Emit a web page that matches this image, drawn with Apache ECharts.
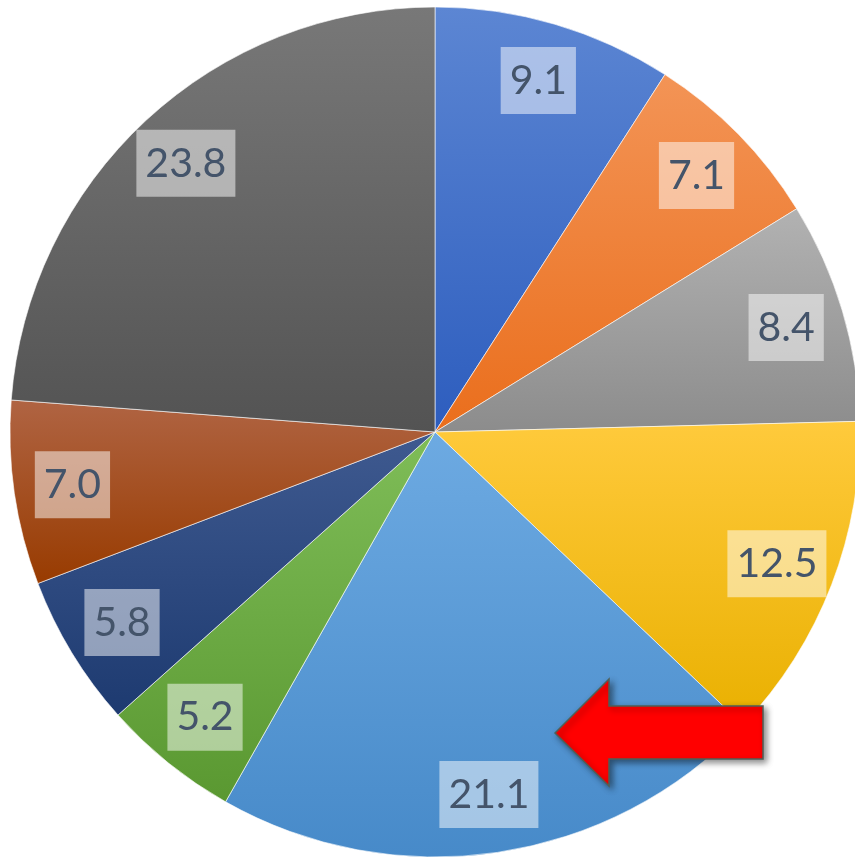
<!DOCTYPE html>
<html>
<head>
<meta charset="utf-8">
<script src="https://cdn.jsdelivr.net/npm/echarts@6/dist/echarts.min.js"></script>
<style>
  html, body { margin: 0; padding: 0; background: #fff; }
  #chart { width: 855px; height: 857px; }
</style>
</head>
<body>
<div id="chart"></div>
<script>
const values = [9.1, 7.1, 8.4, 12.5, 21.1, 5.2, 5.8, 7.0, 23.8]
const topColors = ['#5c86d3', '#f39456', '#b2b2b2', '#ffca3c', '#6daae2', '#7fbd58', '#3f5a90', '#b06443', '#787878']
const bottomColors = ['#2d5dbe', '#ea6e1c', '#8c8c8c', '#e9b000', '#478ac9', '#5a9831', '#1d3a70', '#983b00', '#535353']

const chart = echarts.init(document.getElementById('chart'))

const cx = 435
const cy = 432
const R = 425

const sliceData = values.map((v, i) => ({
  value: v,
  itemStyle: {
    color: new echarts.graphic.LinearGradient(0, 0, 0, 1, [
      { offset: 0, color: topColors[i] },
      { offset: 1, color: bottomColors[i] },
    ]),
  },
}))

const option = {
  backgroundColor: '#fff',
  animation: false,
  series: [
    {
      type: 'pie',
      center: [cx, cy],
      radius: [0, R],
      startAngle: 90,
      clockwise: true,
      silent: true,
      label: { show: false },
      labelLine: { show: false },
      itemStyle: { borderColor: 'rgba(255,255,255,0.6)', borderWidth: 1 },
      data: sliceData,
    },
    {
      // transparent ring, only used to put the labels near the rim
      type: 'pie',
      center: [cx, cy],
      radius: [R * 0.71, R],
      startAngle: 90,
      clockwise: true,
      silent: true,
      itemStyle: { color: 'rgba(0,0,0,0)' },
      labelLine: { show: false },
      label: {
        show: true,
        position: 'inside',
        formatter: p => p.value.toFixed(1),
        color: '#44546a',
        fontFamily: 'Lato',
        fontSize: 41,
        backgroundColor: 'rgba(255,255,255,0.5)',
        padding: [14, 9, 12, 9],
      },
      data: values,
    },
  ],
  graphic: [
    {
      type: 'polygon',
      z: 100,
      shape: {
        points: [[555, 733], [609, 679], [609, 706], [763, 706], [763, 759], [609, 759], [609, 786]],
      },
      style: {
        fill: '#ff0000',
        stroke: '#4f5f57',
        lineWidth: 1.5,
        shadowColor: 'rgba(0,0,0,0.45)',
        shadowBlur: 6,
        shadowOffsetX: 3,
        shadowOffsetY: 3,
      },
    },
  ],
}

chart.setOption(option)
</script>
</body>
</html>
